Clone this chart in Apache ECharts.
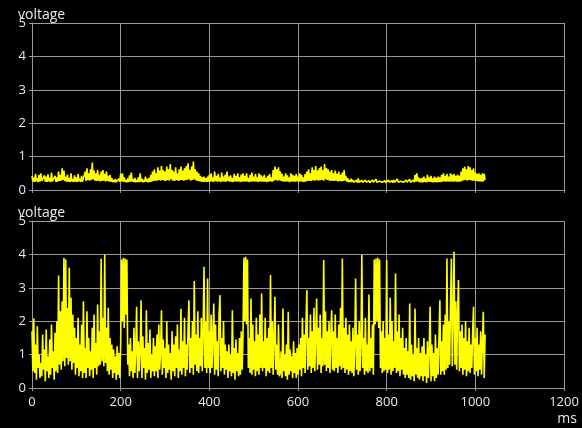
<!DOCTYPE html>
<html>
<head>
<meta charset="utf-8">
<script src="https://cdn.jsdelivr.net/npm/echarts@6/dist/echarts.min.js"></script>
<style>
html,body{margin:0;padding:0;background:#000;}
#chart{width:582px;height:428px;}
</style>
</head>
<body>
<div id="chart"></div>
<script>
// sample spacing of both traces (ms)
const sampleStepMs = 2;
const xTicks = [0, 200, 400, 600, 800, 1000, 1200];
const yTicks = [0, 1, 2, 3, 4, 5];

// upper trace (voltage), one value per sample, 20 samples (40 ms) per row
const topVoltage = [
0.42,0.25,0.38,0.24,0.48,0.26,0.35,0.24,0.45,0.25,0.5,0.27,0.32,0.24,0.44,0.25,0.4,0.24,0.47,0.26,
0.36,0.24,0.52,0.26,0.3,0.25,0.42,0.24,0.38,0.25,0.55,0.27,0.45,0.28,0.65,0.3,0.58,0.27,0.4,0.25,
0.46,0.25,0.35,0.24,0.5,0.26,0.32,0.24,0.44,0.25,0.38,0.24,0.48,0.26,0.34,0.24,0.42,0.25,0.3,0.24,
0.55,0.27,0.65,0.3,0.5,0.28,0.62,0.3,0.82,0.32,0.58,0.28,0.5,0.27,0.6,0.28,0.45,0.26,0.55,0.27,
0.6,0.28,0.48,0.26,0.55,0.27,0.42,0.25,0.45,0.25,0.35,0.24,0.3,0.23,0.33,0.24,0.28,0.23,0.34,0.24,
0.48,0.26,0.5,0.25,0.38,0.24,0.3,0.23,0.35,0.24,0.44,0.25,0.52,0.26,0.32,0.24,0.36,0.23,0.3,0.24,
0.38,0.24,0.5,0.25,0.34,0.23,0.3,0.24,0.4,0.25,0.32,0.23,0.36,0.24,0.45,0.25,0.55,0.27,0.62,0.28,
0.5,0.27,0.68,0.3,0.58,0.28,0.72,0.3,0.6,0.28,0.55,0.27,0.7,0.3,0.62,0.28,0.78,0.32,0.6,0.28,
0.55,0.27,0.68,0.3,0.5,0.27,0.62,0.29,0.7,0.3,0.58,0.28,0.65,0.29,0.72,0.3,0.8,0.32,0.6,0.28,
0.7,0.3,0.85,0.32,0.62,0.29,0.55,0.27,0.5,0.26,0.42,0.25,0.38,0.24,0.4,0.25,0.35,0.24,0.4,0.25,
0.45,0.25,0.5,0.26,0.38,0.24,0.55,0.27,0.42,0.25,0.48,0.26,0.36,0.24,0.52,0.26,0.4,0.25,0.46,0.25,
0.55,0.27,0.4,0.25,0.44,0.25,0.36,0.24,0.48,0.26,0.42,0.25,0.5,0.26,0.38,0.24,0.46,0.25,0.5,0.26,
0.42,0.25,0.5,0.26,0.36,0.24,0.45,0.25,0.52,0.26,0.4,0.25,0.48,0.26,0.38,0.24,0.5,0.26,0.45,0.25,
0.4,0.25,0.45,0.25,0.36,0.24,0.42,0.25,0.48,0.26,0.38,0.25,0.6,0.28,0.7,0.3,0.62,0.28,0.68,0.29,
0.55,0.27,0.48,0.26,0.4,0.25,0.5,0.26,0.44,0.25,0.38,0.24,0.5,0.26,0.45,0.25,0.42,0.25,0.48,0.26,
0.4,0.25,0.5,0.26,0.45,0.25,0.38,0.24,0.48,0.26,0.55,0.27,0.62,0.28,0.5,0.27,0.68,0.29,0.6,0.28,
0.72,0.3,0.58,0.28,0.65,0.29,0.7,0.3,0.6,0.28,0.78,0.32,0.66,0.3,0.62,0.29,0.55,0.27,0.6,0.28,
0.5,0.27,0.58,0.28,0.48,0.26,0.55,0.27,0.45,0.26,0.52,0.27,0.6,0.28,0.42,0.25,0.35,0.24,0.3,0.24,
0.34,0.24,0.3,0.23,0.28,0.23,0.3,0.22,0.35,0.23,0.27,0.22,0.29,0.23,0.26,0.22,0.3,0.23,0.27,0.22,
0.28,0.22,0.26,0.22,0.3,0.23,0.27,0.22,0.32,0.23,0.28,0.22,0.26,0.22,0.29,0.23,0.27,0.22,0.28,0.22,
0.27,0.22,0.3,0.23,0.26,0.22,0.28,0.22,0.3,0.23,0.27,0.22,0.33,0.23,0.28,0.22,0.26,0.22,0.29,0.23,
0.27,0.22,0.3,0.23,0.28,0.22,0.32,0.23,0.27,0.22,0.3,0.23,0.45,0.25,0.5,0.26,0.38,0.24,0.34,0.23,
0.36,0.23,0.4,0.24,0.34,0.23,0.45,0.25,0.38,0.24,0.42,0.24,0.35,0.23,0.4,0.24,0.36,0.23,0.4,0.24,
0.38,0.24,0.45,0.25,0.5,0.26,0.42,0.25,0.48,0.26,0.4,0.25,0.5,0.26,0.45,0.25,0.48,0.26,0.42,0.25,
0.46,0.25,0.42,0.25,0.55,0.27,0.65,0.29,0.7,0.3,0.62,0.28,0.72,0.3,0.68,0.29,0.6,0.28,0.65,0.28,
0.52,0.27,0.48,0.26,0.5,0.26,0.45,0.25,0.5,0.26,0.48,0.3
];

// lower trace (voltage), one value per sample, 20 samples (40 ms) per row
const bottomVoltage = [
1.7,0.5,2.08,0.45,1.3,0.25,1.85,0.6,1.0,0.3,0.75,0.35,1.6,0.55,1.15,0.2,1.75,0.5,0.95,0.3,
1.45,0.4,1.9,0.6,1.1,0.25,1.65,0.5,2.0,0.45,3.37,0.7,2.3,0.55,2.6,0.8,3.9,0.65,3.85,0.9,
2.4,0.7,3.6,0.8,2.7,0.55,2.2,0.75,1.8,0.4,1.5,0.6,2.1,0.35,1.3,0.5,1.9,0.3,2.6,0.45,
1.2,0.3,2.3,0.6,1.5,0.35,1.1,0.55,1.8,0.3,2.2,0.6,1.35,0.4,2.5,0.65,1.7,0.7,3.87,0.8,
2.1,0.65,4.0,0.75,1.8,0.5,2.4,0.4,1.5,0.55,1.3,0.3,1.15,0.45,0.95,0.25,1.25,0.4,1.05,0.3,
1.3,3.85,2.0,3.9,1.8,3.88,2.2,3.85,0.7,1.3,0.35,1.5,0.5,1.1,0.3,1.8,0.45,1.2,2.43,0.3,
1.4,0.5,1.1,2.63,0.3,1.55,0.6,1.2,0.25,2.33,0.45,1.35,0.55,1.75,0.3,1.0,0.5,1.5,0.35,1.25,
0.5,1.6,0.3,1.9,0.55,1.1,2.33,0.4,1.45,0.6,1.2,0.3,2.0,0.45,1.3,0.55,1.05,0.25,1.7,0.5,
1.3,0.35,1.55,0.6,1.9,0.3,1.15,0.5,2.37,0.4,1.4,0.6,2.1,0.35,1.3,0.55,1.8,2.63,0.45,1.5,
0.6,2.0,0.4,3.2,0.7,1.6,0.5,2.3,0.45,1.5,0.65,2.1,0.5,1.7,3.63,0.6,2.0,0.45,3.28,0.6,
1.7,0.45,2.2,0.6,1.5,2.53,0.4,1.9,0.55,1.4,0.35,2.2,2.78,0.5,1.5,0.6,2.0,0.4,1.3,0.55,
1.1,0.3,1.3,0.5,1.0,0.35,2.33,0.45,1.2,0.25,1.45,0.5,1.05,0.35,1.5,0.4,1.7,0.55,1.6,3.9,
2.0,3.93,1.9,3.85,0.6,1.5,0.45,2.68,0.4,1.9,0.55,1.4,0.35,2.1,0.5,1.6,0.4,2.2,0.6,2.83,
0.5,1.4,0.6,2.1,0.35,1.5,0.5,1.8,0.45,3.38,0.6,2.0,0.4,1.5,2.73,0.55,1.3,0.4,1.9,0.35,
0.45,1.1,0.3,2.38,0.5,1.0,0.35,1.3,0.25,2.28,0.4,1.15,0.5,0.95,0.3,1.4,0.45,1.05,0.3,1.2,
0.4,1.3,0.55,1.5,0.35,2.1,0.6,1.6,0.45,1.9,2.93,0.55,1.5,0.65,2.2,0.45,1.7,0.6,2.4,0.5,
1.6,2.68,0.55,1.8,0.7,2.2,0.45,1.5,0.65,3.83,0.7,2.3,0.5,1.7,0.6,2.0,0.45,1.6,2.33,0.55,
1.7,0.5,2.2,0.6,1.5,0.45,1.9,0.65,2.4,0.55,3.88,0.6,1.8,0.45,2.1,0.55,1.6,0.4,1.9,0.5,
1.4,0.45,1.8,0.35,1.3,3.28,0.55,1.6,0.4,2.0,0.5,1.4,3.98,0.6,1.5,0.4,2.1,0.5,1.3,0.45,
2.8,0.5,1.5,0.6,1.9,0.4,3.85,1.9,3.88,2.0,3.9,1.8,3.85,0.6,1.7,0.45,2.0,0.5,1.5,0.55,
3.83,0.45,1.6,0.55,2.7,0.4,2.0,0.5,1.4,0.6,3.43,0.45,1.7,0.5,2.2,0.35,1.5,0.55,1.8,0.4,
1.2,0.3,1.5,0.4,1.1,0.3,2.53,0.25,1.3,0.35,1.0,0.2,2.38,0.4,1.2,0.3,1.5,0.25,1.05,0.35,
1.25,0.2,1.5,0.35,1.0,0.15,1.4,0.3,1.15,2.43,0.2,1.3,0.35,1.05,0.2,1.6,0.3,1.2,0.4,1.5,
2.63,0.4,1.4,0.5,1.9,0.4,2.2,0.55,3.88,0.6,2.0,0.7,2.5,3.88,0.65,2.2,4.08,0.7,2.6,0.55,
2.3,3.23,0.5,1.7,0.6,1.9,0.4,1.5,0.55,2.0,0.35,1.4,0.5,1.8,0.45,1.3,0.6,1.7,2.43,0.4,
1.5,0.5,1.8,0.35,1.3,0.55,1.7,0.4,1.4,2.28,0.3,1.6
];

function toPairs(values) {
  return values.map((v, i) => [i * sampleStepMs, v]);
}

const textColor = '#e6e9ee';
const gridColor = '#9a9a9a';
const fontFamily = '"Open Sans", "Segoe UI", sans-serif';

function yAxisCfg(gridIndex) {
  return {
    type: 'value', gridIndex: gridIndex,
    min: yTicks[0], max: yTicks[yTicks.length - 1], interval: 1,
    axisLine: { show: true, lineStyle: { color: gridColor, width: 1 } },
    axisTick: { show: true, length: 3, lineStyle: { color: gridColor } },
    axisLabel: { color: textColor, fontSize: 13, fontFamily: fontFamily, margin: 6 },
    splitLine: { show: true, lineStyle: { color: gridColor, width: 1 } }
  };
}

function xAxisCfg(gridIndex, showLabels) {
  const cfg = {
    type: 'value', gridIndex: gridIndex,
    min: xTicks[0], max: xTicks[xTicks.length - 1], interval: 200,
    axisLine: { show: true, onZero: false, lineStyle: { color: gridColor, width: 1 } },
    axisTick: { show: true, length: 3, lineStyle: { color: gridColor } },
    axisLabel: { show: showLabels, color: textColor, fontSize: 13, fontFamily: fontFamily, margin: 8,
      formatter: function (v) { return String(v); } },
    splitLine: { show: true, lineStyle: { color: gridColor, width: 1 } }
  };
  if (showLabels) {
    cfg.name = 'ms';
    cfg.nameLocation = 'end';
    cfg.nameGap = 13;
    cfg.nameTextStyle = { color: textColor, fontSize: 14, fontFamily: fontFamily, align: 'right', verticalAlign: 'top', padding: [24, 0, 0, 0] };
  }
  return cfg;
}

const chart = echarts.init(document.getElementById('chart'), null, { renderer: 'canvas' });
chart.setOption({
  backgroundColor: '#000000',
  animation: false,
  title: [
    { text: 'voltage', left: 13, top: 3, textStyle: { color: textColor, fontSize: 14, fontWeight: 'normal', fontFamily: fontFamily } },
    { text: 'voltage', left: 13, top: 201, textStyle: { color: textColor, fontSize: 14, fontWeight: 'normal', fontFamily: fontFamily } }
  ],
  grid: [
    { left: 32, right: 18, top: 23, height: 167 },
    { left: 32, right: 18, top: 221, height: 167 }
  ],
  xAxis: [xAxisCfg(0, false), xAxisCfg(1, true)],
  yAxis: [yAxisCfg(0), yAxisCfg(1)],
  series: [
    { type: 'line', xAxisIndex: 0, yAxisIndex: 0, data: toPairs(topVoltage), showSymbol: false, sampling: 'none',
      lineStyle: { color: '#ffff00', width: 1.6 }, itemStyle: { color: '#ffff00' } },
    { type: 'line', xAxisIndex: 1, yAxisIndex: 1, data: toPairs(bottomVoltage), showSymbol: false, sampling: 'none',
      lineStyle: { color: '#ffff00', width: 1.6 }, itemStyle: { color: '#ffff00' } }
  ]
});
</script>
</body>
</html>
